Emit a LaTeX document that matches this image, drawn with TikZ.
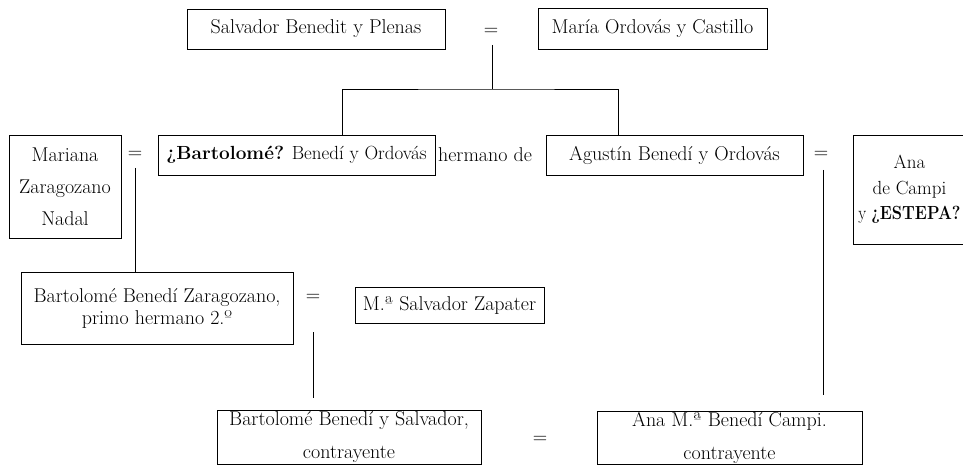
\documentclass[tikz,border=0pt]{standalone}
\usepackage{tikz}
\usepackage{graphicx}
\usetikzlibrary{calc}

\begin{document}
\begin{tikzpicture}[
  x=1pt, y=-1pt,
  every node/.style={font=\fontsize{20}{22}\selectfont},
  persona/.style = {draw, line width=0.9pt, inner sep=0pt, align=center},
  igual/.style = {inner sep=0pt},
  linea/.style = {line width=0.9pt}
  ]
	\useasboundingbox (0,0) rectangle (963,465);

	% primera generacion
	\node[persona,minimum width=258,minimum height=40] (salvador) at (316,29) {Salvador Benedit y Plenas};
	\node[persona,minimum width=229,minimum height=41] (maria) at (652.5,28.5) {María Ordovás y Castillo};
	\node[igual] (eq1) at (491,32) {=};

	% segunda generacion
	\node[persona,minimum width=112,minimum height=103,font=\fontsize{20}{32}\selectfont] (mariana) at (65,186.5) {Mariana\\Zaragozano\\Nadal};
	\node[igual] (eq2) at (135,155) {=};
	\node[persona,minimum width=277,minimum height=40,font=\fontsize{19}{22}\selectfont] (bart) at (296.5,155) {\textbf{¿Bartolomé?} Benedí y Ordovás};
	\node (hermano) at (485,155) {hermano de};
	\node[persona,minimum width=257,minimum height=40] (agus) at (674.5,155) {Agustín Benedí y Ordovás};
	\node[igual] (eq3) at (821,155) {=};
	\node[persona,minimum width=113,minimum height=109,font=\fontsize{19}{25.5}\selectfont] (ana) at (909.5,189.5) {Ana\\de Campi\\\scalebox{0.86}[1]{y \textbf{¿ESTEPA?}}};

	% tercera generacion
	\node[persona,minimum width=272,minimum height=72] (zarag) at (157,308) {Bartolomé Benedí Zaragozano,\\primo hermano 2.º};
	\node[igual] (eq4) at (313,298) {=};
	\node[persona,minimum width=189,minimum height=36] (zapater) at (449.5,305) {M.ª Salvador Zapater};

	% contrayentes
	\node[persona,minimum width=264,minimum height=54,font=\fontsize{20}{33}\selectfont] (salvcontr) at (349,437) {Bartolomé Benedí y Salvador,\\contrayente};
	\node[igual] (eq5) at (540,440) {=};
	\node[persona,minimum width=265,minimum height=53,font=\fontsize{20}{33}\selectfont] (anacontr) at (729.5,437.5) {Ana M.ª Benedí Campi.\\contrayente};

	\coordinate (bar) at ($(eq1)+(1,57)$);
	\coordinate (bartTop) at ($(bart.north west)!0.664!(bart.north east)$);
	\coordinate (agusTop) at ($(agus.north west)!0.284!(agus.north east)$);

	\draw[linea] ([yshift=-13pt,xshift=1pt]eq1.center) -- (bar);
	\draw[linea] (bartTop) |- (bar) -| (agusTop);
	\draw[linea] ([yshift=-13pt]eq2.center) -- (eq2 |- zarag.north);
	\draw[linea] ([yshift=-15pt,xshift=2pt]eq3.center) -- ($(eq3 |- anacontr.north)+(2,-16)$);
	\draw[linea] ([yshift=-34pt]eq4.center) -- ($(eq4 |- salvcontr.north)+(0,-12)$);

\end{tikzpicture}
\end{document}
